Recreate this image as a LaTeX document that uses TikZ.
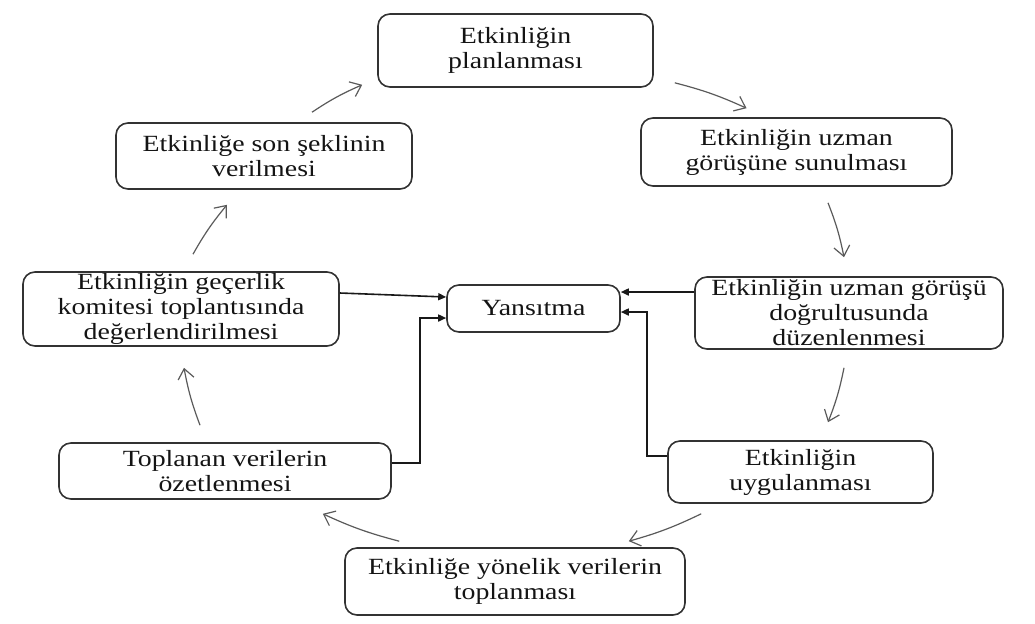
\documentclass[tikz,border=0pt]{standalone}
\usepackage{fontspec}
\setmainfont{Liberation Serif}[FakeStretch=1.2]
\usepackage{tikz}
\usetikzlibrary{arrows.meta,calc}
\definecolor{boxline}{RGB}{50,50,50}
\definecolor{cycline}{RGB}{90,90,90}
\definecolor{txt}{RGB}{20,20,20}

\begin{document}
\begin{tikzpicture}[x=0.5pt, y=-0.5pt,
  every node/.style={font=\fontsize{11.6}{12.5}\selectfont, text=txt},
  stage/.style 2 args={draw=boxline, line width=0.8pt, rounded corners=6pt,
    align=center, inner sep=0pt, minimum width=#1, minimum height=#2},
  cyc/.style={-{Straight Barb[length=5pt,width=8pt]}, cycline, line width=0.6pt, bend left=5},
  feed/.style={-{Triangle[length=4pt,width=3.5pt]}, black!90, line width=0.8pt}]
  \useasboundingbox (0,0) rectangle (1035,623);

  % Stages of the cycle
  \node[stage={137.5pt}{36.5pt}] (plan) at (515.5,50.5) {Etkinliğin\\planlanması};
  \node[stage={155.5pt}{34pt}] (sunul) at (796.5,152) {Etkinliğin uzman\\görüşüne sunulması};
  \node[stage={154pt}{36pt}] (duzen) at (849,313) {Etkinliğin uzman görüşü\\doğrultusunda\\düzenlenmesi};
  \node[stage={132.5pt}{31pt}] (uygula) at (800.5,472) {Etkinliğin\\uygulanması};
  \node[stage={170pt}{33.5pt}] (toplan) at (515,581.5) {Etkinliğe yönelik verilerin\\toplanması};
  \node[stage={166pt}{28pt}] (ozet) at (225,471) {Toplanan verilerin\\özetlenmesi};
  \node[stage={158pt}{37pt}] (gecer) at (181,309) {Etkinliğin geçerlik\\komitesi toplantısında\\değerlendirilmesi};
  \node[stage={148pt}{33pt}] (son) at (264,156) {Etkinliğe son şeklinin\\verilmesi};

  % Centre
  \node[stage={86.5pt}{23.5pt}] (yans) at (533.5,308.5) {Yansıtma};

  % Cycle arrows
  \draw[cyc] ($(son.north)+(48,-10)$) to ($(plan.south west)+(-15,-3)$);
  \draw[cyc] ($(plan.south east)+(21,-5)$) to ($(sunul.north)+(-50,-9)$);
  \draw[cyc] ($(sunul.south)+(31.5,16)$) to ($(duzen.north)+(-5,-19)$);
  \draw[cyc] ($(duzen.south)+(-5,18)$) to ($(uygula.north)+(27.5,-18)$);
  \draw[cyc] ($(uygula.south west)+(34,10)$) to ($(toplan.north east)+(-57,-6)$);
  \draw[cyc] ($(toplan.north west)+(55,-6)$) to ($(ozet.south east)+(-69,14)$);
  \draw[cyc] ($(ozet.north)+(-25,-17)$) to ($(gecer.south)+(3,21)$);
  \draw[cyc] ($(gecer.north)+(12,-17)$) to ($(son.south)+(-37,15)$);

  % Feedback to Yansitma
  \draw[feed] ($(gecer.east)+(0,-16)$) -- ($(yans.west)+(0,-11.5)$);
  \draw[feed] ($(ozet.east)+(0,-8)$) -- ++(28,0) |- ($(yans.west)+(0,9.5)$);
  \draw[feed] ($(duzen.west)+(0,-21)$) -- ($(yans.east)+(0,-16.5)$);
  \draw[feed] ($(uygula.west)+(0,-16)$) -- ++(-20,0) |- ($(yans.east)+(0,3.5)$);
\end{tikzpicture}
\end{document}
